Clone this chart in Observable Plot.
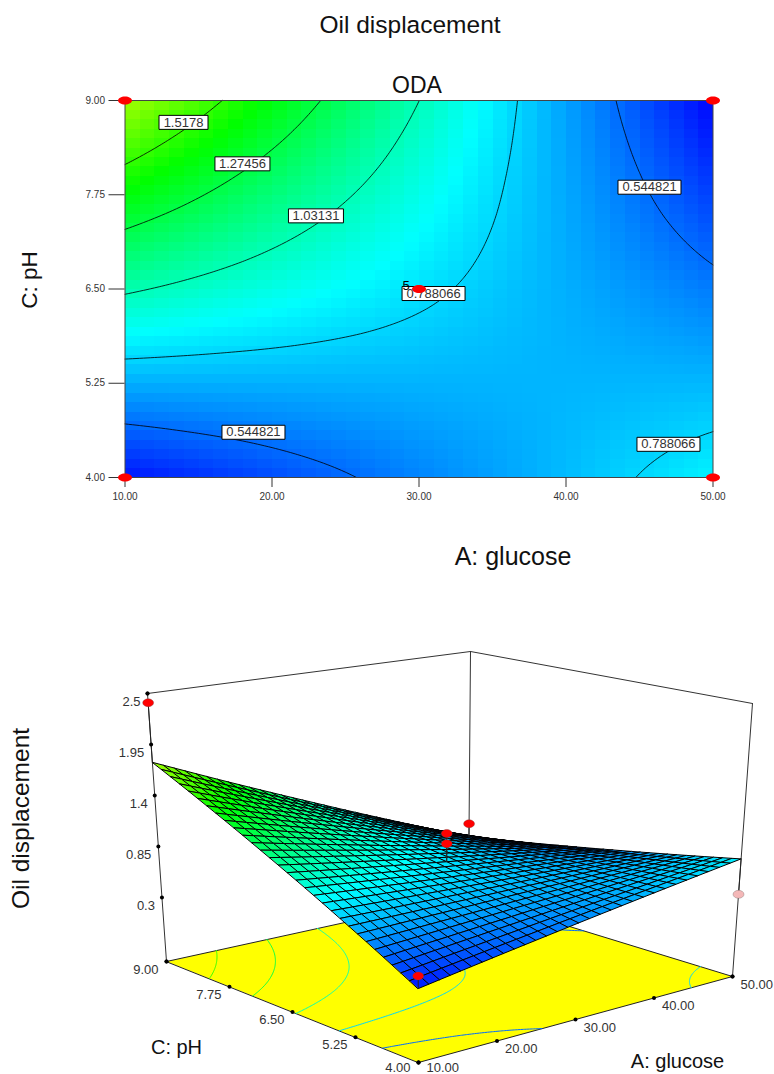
<!DOCTYPE html>
<html>
<head>
<meta charset="utf-8">
<script src="https://cdn.jsdelivr.net/npm/d3@7"></script>
<script src="https://cdn.jsdelivr.net/npm/@observablehq/plot@0.6"></script>
<style>
html,body{margin:0;padding:0;background:#fff}
svg{display:block}
</style>
</head>
<body>
<div id="chart"></div>
<script>
// Oil displacement values (contour crossings, 3D corner heights).
const glucose = [10,14,18,22,26,30,34,38,42,46,50];
const pH = [9,8.5,8,7.5,7,6.5,6,5.5,5,4.5,4];
const oil = [
[1.758,1.613,1.467,1.322,1.177,1.032,0.886,0.741,0.596,0.450,0.305],
[1.617,1.491,1.365,1.240,1.114,0.988,0.863,0.737,0.611,0.486,0.360],
[1.475,1.369,1.263,1.157,1.051,0.945,0.839,0.733,0.627,0.521,0.415],
[1.334,1.248,1.161,1.075,0.988,0.902,0.816,0.729,0.643,0.556,0.470],
[1.192,1.125,1.059,0.992,0.925,0.859,0.792,0.725,0.658,0.592,0.525],
[1.051,1.004,0.957,0.910,0.863,0.816,0.768,0.721,0.674,0.627,0.580],
[0.910,0.882,0.855,0.827,0.800,0.772,0.745,0.717,0.690,0.662,0.635],
[0.768,0.760,0.752,0.745,0.737,0.729,0.721,0.713,0.705,0.698,0.690],
[0.627,0.639,0.651,0.662,0.674,0.686,0.698,0.710,0.721,0.733,0.745],
[0.485,0.517,0.548,0.580,0.611,0.643,0.674,0.705,0.737,0.768,0.800],
[0.344,0.395,0.446,0.497,0.548,0.600,0.651,0.702,0.753,0.804,0.855]];

const contourLevels = [0.544821,0.788066,1.03131,1.27456,1.5178];
const labelText = ["1.5178","1.27456","1.03131","0.788066","0.544821","0.544821","0.788066"];
const labelA = [13.98,17.99,22.99,30.99,45.68,18.74,46.97];
const labelPH = [8.71,8.16,7.47,6.44,7.85,4.60,4.44];

const designA = [10,50,10,50,30];
const designPH = [9,9,4,4,6.5];

const xTicks = [10,20,30,40,50];
const yTicks = [4,5.25,6.5,7.75,9];
const zTicks = [0.3,0.85,1.4,1.95,2.5];
const zTickLabels = ["0.3","0.85","1.4","1.95","2.5"];

// 3D design points seen in the lower panel
const pointA = [10,10,50,30,30,50];
const pointPH = [9,4,9,6.5,6.5,4];
const pointZ = [2.4,0.47,0.46,1.12,1.01,0.48];
const pointFill = ["red","red","red","red","red","#f4b8b8"];

// View calibration of the 3D box: floor and ceiling corners on the page
const zFloor = -0.39, zTop = 2.5;
const floorCorners = {a10p9:[166,961],a50p9:[468,895],a10p4:[418,1062],a50p4:[732,976]};
const topCorners = {a10p9:[147,693],a50p9:[470,651],a10p4:[417,771],a50p4:[752,703]};

const colorScale = {
  type:"linear",
  domain:[0.3,0.88,1.42,1.95],
  range:["#0000ff","#00ffff","#00ff00","#ffff00"],
  interpolate:"rgb"
};

// Rendering only: the finer raster, mesh and contours resample the table above.
function zAt(a,p){
  const cf=Math.min((a-10)/4,9.9999), rf=Math.min((9-p)/0.5,9.9999);
  const c=Math.floor(cf), r=Math.floor(rf), u=cf-c, v=rf-r;
  return (oil[r][c]*(1-u)+oil[r][c+1]*u)*(1-v)+(oil[r+1][c]*(1-u)+oil[r+1][c+1]*u)*v;
}
function bil(cs,a,p){
  const u=(a-10)/40, v=(p-4)/5;
  return [0,1].map(k=>(cs.a10p4[k]*(1-u)+cs.a50p4[k]*u)*(1-v)+(cs.a10p9[k]*(1-u)+cs.a50p9[k]*u)*v);
}
function project(a,p,z){
  const f=bil(floorCorners,a,p), t=bil(topCorners,a,p), w=(z-zFloor)/(zTop-zFloor);
  return {px:f[0]+(t[0]-f[0])*w, py:f[1]+(t[1]-f[1])*w};
}
function ellipse(rx,ry){
  const k=0.5523;
  return {draw(c){
    c.moveTo(rx,0);
    c.bezierCurveTo(rx,k*ry,k*rx,ry,0,ry);
    c.bezierCurveTo(-k*rx,ry,-rx,k*ry,-rx,0);
    c.bezierCurveTo(-rx,-k*ry,-k*rx,-ry,0,-ry);
    c.bezierCurveTo(k*rx,-ry,rx,-k*ry,rx,0);
    c.closePath();
  }};
}
function box(w,h){
  return {draw(c){
    c.moveTo(-w/2,-h/2);c.lineTo(w/2,-h/2);c.lineTo(w/2,h/2);c.lineTo(-w/2,h/2);c.closePath();
  }};
}

// raster cells
const N=40;
const cells=[];
for(let j=0;j<N;j++)for(let i=0;i<N;i++)cells.push(zAt(10+40*(i+.5)/N,9-5*(j+.5)/N));

// contour lines from a fine sampling, using d3.contours
const M=161, fine=[];
for(let j=0;j<M;j++)for(let i=0;i<M;i++)fine.push(zAt(10+40*i/(M-1),4+5*j/(M-1)));
const contourPts=[];
let ringId=0;
contourLevels.forEach(level=>{
  const g=d3.contours().size([M,M]).thresholds([level])(fine)[0];
  g.coordinates.forEach(poly=>poly.forEach(ring=>{
    ringId++;
    ring.forEach(([x,y])=>{
      const border=x<=0||x>=M||y<=0||y>=M;
      const a=border?NaN:10+40*(x-.5)/(M-1);
      const p=border?NaN:4+5*(y-.5)/(M-1);
      const s=border?{px:NaN,py:NaN}:project(a,p,zFloor);
      contourPts.push({a,p,level,id:ringId,...s});
    });
  }));
});

const labels=labelText.map((t,i)=>({t,a:labelA[i],p:labelPH[i]}));
const design=designA.map((a,i)=>({a,p:designPH[i]}));
const textColor="#333";

const upperPlot=Plot.plot({
  width:774,height:600,
  marginTop:100,marginBottom:123,marginLeft:124.5,marginRight:61.5,
  style:{fontFamily:"Liberation Sans, Arial, sans-serif",background:"#fff"},
  x:{domain:[10,50],label:null},
  y:{domain:[4,9],label:null},
  color:colorScale,
  marks:[
    Plot.raster(cells,{width:N,height:N,x1:10,x2:50,y1:9,y2:4,imageRendering:"pixelated"}),
    Plot.line(contourPts,{x:"a",y:"p",z:"id",stroke:"#000",strokeWidth:0.8}),
    Plot.frame({stroke:"#444"}),
    Plot.axisX(xTicks,{tickFormat:d=>d.toFixed(2),tickSize:10,tickPadding:5,fontSize:10,label:null,color:textColor}),
    Plot.axisY(yTicks,{tickFormat:d=>d.toFixed(2),tickSize:16,tickPadding:4,fontSize:10,label:null,color:textColor}),
    ...[[6,49],[7,55],[8,63]].map(([len,w])=>Plot.dot(labels,{
      filter:d=>d.t.length===len,x:"a",y:"p",symbol:box(w,14),fill:"#fff",stroke:"#000",strokeWidth:1
    })),
    Plot.text(labels,{x:"a",y:"p",text:"t",fontSize:13,fill:textColor}),
    Plot.text(["5"],{x:()=>30,y:()=>6.5,dx:-13,dy:-3,fontSize:13,fill:"#000"}),
    Plot.dot(design,{x:"a",y:"p",symbol:ellipse(7,4),fill:"red",stroke:"none"}),
    Plot.text(["Oil displacement"],{frameAnchor:"top",dx:-9,dy:-75,lineAnchor:"middle",fontSize:24.5,fill:"#111"}),
    Plot.text(["ODA"],{frameAnchor:"top",dx:-2,dy:-15,lineAnchor:"middle",fontSize:23,fill:"#111"}),
    Plot.text(["A: glucose"],{frameAnchor:"bottom",dx:94,dy:79,lineAnchor:"middle",fontSize:25,fill:"#111"}),
    Plot.text(["C: pH"],{frameAnchor:"left",textAnchor:"middle",dx:-95,dy:-9,rotate:-90,lineAnchor:"middle",fontSize:22.5,fill:"#111"})
  ]
});

// Lower panel
const P=(a,p,z)=>project(a,p,z);
const floorPoly=[[10,9],[50,9],[50,4],[10,4]].map(([a,p])=>P(a,p,zFloor));
const seg=(id,A,B)=>[{id,...A},{id,...B}];
const backLines=[
  ...seg(1,P(10,9,zFloor),P(10,9,zTop)),
  ...seg(2,P(50,4,zFloor),P(50,4,zTop)),
  ...seg(3,P(50,9,zFloor),P(50,9,zTop)),
  ...seg(4,P(10,9,zTop),P(50,9,zTop)),
  ...seg(5,P(50,9,zTop),P(50,4,zTop))
];
const meshN=30;
const meshCells=[];
let cellId=0;
for(let i=meshN-1;i>=0;i--)for(let j=meshN-1;j>=0;j--){
  const a0=10+40*i/meshN,a1=10+40*(i+1)/meshN,p0=4+5*j/meshN,p1=4+5*(j+1)/meshN;
  const v=zAt((a0+a1)/2,(p0+p1)/2);
  cellId++;
  [[a0,p0],[a1,p0],[a1,p1],[a0,p1]].forEach(([a,p])=>{
    meshCells.push({id:cellId,v,...P(a,p,zAt(a,p))});
  });
}
const stems=pointA.flatMap((a,i)=>seg(i,P(a,pointPH[i],pointZ[i]),P(a,pointPH[i],zAt(a,pointPH[i]))));
const points3d=pointA.map((a,i)=>({fill:pointFill[i],...P(a,pointPH[i],pointZ[i])}));
const zDots=zTicks.map((z,i)=>({t:zTickLabels[i],...P(10,9,z)}));
const pHDots=yTicks.map(p=>({t:p.toFixed(2),...P(10,p,zFloor)}));
const aDots=xTicks.map(a=>({t:a.toFixed(2),...P(a,4,zFloor)}));
const cornerDots=[P(10,9,zTop),P(10,9,zFloor),P(10,4,zFloor),P(50,4,zFloor)];

const axisTitles=[
  {t:"C: pH",px:176,py:1047,rotate:0},
  {t:"A: glucose",px:677,py:1061,rotate:0},
  {t:"Oil displacement",px:21,py:818,rotate:-90}
];

const lowerPlot=Plot.plot({
  width:774,height:474,margin:0,
  style:{fontFamily:"Liberation Sans, Arial, sans-serif",background:"#fff"},
  x:{domain:[0,774],range:[0,774],axis:null},
  y:{domain:[600,1074],range:[0,474],axis:null},
  color:colorScale,
  marks:[
    Plot.line(floorPoly,{x:"px",y:"py",fill:"#ffff00",stroke:"#222",strokeWidth:1,curve:"linear-closed"}),
    Plot.line(contourPts,{x:"px",y:"py",z:"id",stroke:"level",strokeWidth:1}),
    Plot.line(backLines,{x:"px",y:"py",z:"id",stroke:"#333",strokeWidth:1}),
    Plot.line(meshCells,{x:"px",y:"py",z:"id",fill:"v",stroke:"#000",strokeWidth:1,curve:"linear-closed"}),
    Plot.line(stems,{x:"px",y:"py",z:"id",stroke:"#222",strokeWidth:1}),
    Plot.dot(cornerDots,{x:"px",y:"py",r:2,fill:"#000",stroke:"none"}),
    Plot.dot(zDots,{x:"px",y:"py",r:2,fill:"#000",stroke:"none"}),
    Plot.dot(pHDots,{x:"px",y:"py",r:2,fill:"#000",stroke:"none"}),
    Plot.dot(aDots,{x:"px",y:"py",r:2,fill:"#000",stroke:"none"}),
    Plot.text(zDots,{x:"px",y:"py",text:"t",dx:-7,dy:8,textAnchor:"end",fontSize:13,fill:textColor}),
    Plot.text(pHDots,{x:"px",y:"py",text:"t",filter:d=>d.t!=="4.00",dx:-8,dy:8,textAnchor:"end",fontSize:13,fill:textColor}),
    Plot.text(pHDots,{x:"px",y:"py",text:"t",filter:d=>d.t==="4.00",dx:-8,dy:5,textAnchor:"end",fontSize:13,fill:textColor}),
    Plot.text(aDots,{x:"px",y:"py",text:"t",filter:d=>d.t!=="10.00",dx:8,dy:8,textAnchor:"start",fontSize:13,fill:textColor}),
    Plot.text(aDots,{x:"px",y:"py",text:"t",filter:d=>d.t==="10.00",dx:8,dy:5,textAnchor:"start",fontSize:13,fill:textColor}),
    Plot.dot(points3d,{x:"px",y:"py",symbol:ellipse(5.5,4),fill:"fill",stroke:"#555",strokeWidth:0.3}),
    Plot.text(axisTitles.filter(d=>d.rotate===0),{x:"px",y:"py",text:"t",fontSize:20,fill:"#111"}),
    Plot.text(axisTitles.filter(d=>d.rotate!==0),{x:"px",y:"py",text:"t",rotate:-90,fontSize:24.5,fill:"#111"})
  ]
});

document.getElementById("chart").append(upperPlot,lowerPlot);
</script>
</body>
</html>
